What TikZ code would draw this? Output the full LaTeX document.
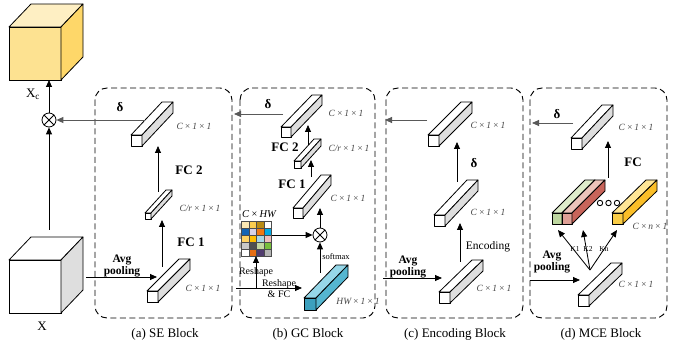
\documentclass[tikz,border=0pt]{standalone}
\usepackage{fontspec}
\setmainfont{Liberation Serif}
\usetikzlibrary{arrows.meta}
\definecolor{cubefront}{RGB}{253,226,145}
\definecolor{cubetop}{RGB}{254,239,195}
\definecolor{cubeside}{RGB}{254,215,105}
\definecolor{barside}{RGB}{222,222,222}
\definecolor{lblgray}{RGB}{70,70,70}
\definecolor{bluefront}{RGB}{60,160,190}
\definecolor{bluetop}{RGB}{150,215,232}
\definecolor{blueside}{RGB}{85,182,208}
\definecolor{grfront}{RGB}{190,215,160}
\definecolor{grtop}{RGB}{222,236,202}
\definecolor{pkfront}{RGB}{222,160,150}
\definecolor{pktop}{RGB}{236,196,186}
\definecolor{pkside}{RGB}{200,100,90}
\definecolor{yefront}{RGB}{250,205,70}
\definecolor{yetop}{RGB}{255,230,150}
\definecolor{yeside}{RGB}{250,190,40}
\definecolor{m11}{RGB}{253,233,180}\definecolor{m12}{RGB}{250,205,80}\definecolor{m13}{RGB}{185,140,20}\definecolor{m14}{RGB}{255,255,255}
\definecolor{m21}{RGB}{20,100,180}\definecolor{m22}{RGB}{215,210,230}\definecolor{m23}{RGB}{240,120,20}\definecolor{m24}{RGB}{0,170,230}
\definecolor{m31}{RGB}{255,210,100}\definecolor{m32}{RGB}{255,190,0}\definecolor{m33}{RGB}{170,215,230}\definecolor{m34}{RGB}{240,190,190}
\definecolor{m41}{RGB}{200,200,200}\definecolor{m42}{RGB}{80,80,80}\definecolor{m43}{RGB}{195,215,160}\definecolor{m44}{RGB}{120,190,60}
\definecolor{m51}{RGB}{255,255,255}\definecolor{m52}{RGB}{230,110,20}\definecolor{m53}{RGB}{80,60,110}\definecolor{m54}{RGB}{180,180,180}
% x y w h dx dy front top side
\newcommand\drawbar[9]{%
  \filldraw[fill=#7,draw=black,line width=0.8pt,line join=round] (#1,#2) rectangle ++(#3,#4);
  \filldraw[fill=#8,draw=black,line width=0.8pt,line join=round] (#1,#2) -- ++(#5,#6) -- ++(#3,0) -- ++({-(#5)},{-(#6)}) -- cycle;
  \filldraw[fill=#9,draw=black,line width=0.8pt,line join=round] ({#1+#3},#2) -- ++(#5,#6) -- ++(0,#4) -- ++({-(#5)},{-(#6)}) -- cycle;
}
\newcommand\tms{\kern1.5pt×\kern1.5pt}
\begin{document}
\begin{tikzpicture}[x=1pt,y=-1pt,
  blockbox/.style={draw,dash pattern=on 6pt off 3.5pt,line width=0.95pt,rounded corners=12pt},
  dimlbl/.style={font=\fontsize{9.5}{9}\selectfont\itshape,text=lblgray,inner sep=0},
  boldlbl/.style={font=\fontsize{13}{13}\selectfont\bfseries,inner sep=0},
  poollbl/.style={font=\fontsize{11.5}{12.5}\selectfont\bfseries,align=center,inner sep=0},
  smalllbl/.style={font=\fontsize{10}{11}\selectfont,align=center,inner sep=0},
  caplbl/.style={font=\fontsize{13}{13}\selectfont,inner sep=0},
  arr/.style={-{Triangle[length=7pt,width=6pt]},line width=0.85pt},
  garr/.style={arr,draw=black!65},
  otimesnode/.style={circle,draw,line width=0.8pt,minimum size=14pt,inner sep=0}]
\useasboundingbox (0,0) rectangle (673,350);

% ---------- left cubes ----------
\filldraw[fill=cubefront,line width=0.8pt] (9,27) rectangle (61,80);
\filldraw[fill=cubetop,line width=0.8pt,line join=round] (9,27) -- (31,4) -- (83,4) -- (61,27) -- cycle;
\filldraw[fill=cubeside,line width=0.8pt,line join=round] (61,27) -- (83,4) -- (83,57) -- (61,80) -- cycle;
\coordinate (xcbot) at (49,80);
\node[caplbl] (xclbl) at (33,94) {X\textsubscript{c}};

\filldraw[fill=white,line width=0.8pt] (9,260) rectangle (61,313);
\filldraw[fill=white,line width=0.8pt,line join=round] (9,260) -- (31,237) -- (83,237) -- (61,260) -- cycle;
\filldraw[fill=barside,line width=0.8pt,line join=round] (61,260) -- (83,237) -- (83,290) -- (61,313) -- cycle;
\node[caplbl] (xlbl) at (42,326) {X};
\coordinate (xtop) at (49,230);
\coordinate (xright) at (86,277);

\node[otimesnode] (om) at (49,120) {};
\draw[line width=0.8pt] (om.north west) -- (om.south east) (om.north east) -- (om.south west);
\draw[arr] (om) -- (xcbot);
\draw[arr] (xtop) -- (om);

% ---------- boxes ----------
\draw[blockbox] (95,88) rectangle (232,318);
\draw[blockbox] (240,88) rectangle (375,318);
\draw[blockbox] (386,88) rectangle (523,318);
\draw[blockbox] (530,88) rectangle (667,318);
\node[caplbl] (capa) at (165,334) {(a) SE Block};
\node[caplbl] (capb) at (308,334) {(b) GC Block};
\node[caplbl] (capc) at (455,334) {(c) Encoding Block};
\node[caplbl] (capd) at (601,334) {(d) MCE Block};

% ---------- SE block ----------
\drawbar{147}{291}{11}{11}{32}{-32}{white}{white}{barside}
\drawbar{145}{213}{6}{6}{21}{-23}{white}{white}{barside}
\drawbar{131}{135}{11}{11}{31}{-33}{white}{white}{barside}
\node[dimlbl] (sel1) at (203,288) {C\tms 1\tms 1};
\node[dimlbl] (sel2) at (200,208) {C/r\tms 1\tms 1};
\node[dimlbl] (sel3) at (194,126) {C\tms 1\tms 1};
\coordinate (seb) at (157,277);
\draw[arr] (xright) -- (seb);
\node[poollbl] (sepool) at (122,266) {Avg\\pooling};
\coordinate (sea1) at (162,267); \coordinate (sea2) at (162,220);
\draw[arr] (sea1) -- (sea2);
\coordinate (sea3) at (158,192); \coordinate (sea4) at (158,146);
\draw[arr] (sea3) -- (sea4);
\node[boldlbl] (sefc1) at (191,242) {FC 1};
\node[boldlbl] (sefc2) at (189,170) {FC 2};
\coordinate (setop) at (145,120);
\draw[garr] (setop) -- (om);
\node[boldlbl] (sedelta) at (120,107) {δ};

% ---------- GC block ----------
\drawbar{304}{298}{12}{12}{32}{-33}{bluefront}{bluetop}{blueside}
\drawbar{293}{208}{10}{10}{28}{-33}{white}{white}{barside}
\drawbar{294}{161}{7}{7}{20}{-22}{white}{white}{barside}
\drawbar{281}{127}{10}{10}{31}{-32}{white}{white}{barside}
\node[dimlbl] (gcl1) at (358,301) {HW\tms 1\tms 1};
\node[dimlbl] (gcl2) at (348,198) {C\tms 1\tms 1};
\node[dimlbl] (gcl3) at (349,148) {C/r\tms 1\tms 1};
\node[dimlbl] (gcl4) at (346,113) {C\tms 1\tms 1};
% grid
\foreach \r in {1,...,5}{\foreach \c in {1,...,4}{
  \filldraw[fill=m\r\c,draw=black!70,line width=0.4pt] ({241.5+7.5*(\c-1)},{221+7*(\r-1)}) rectangle ++(7.5,7);
}}
\coordinate (gridR) at (271.5,235);
\coordinate (gridB) at (256,256);
\node[font=\fontsize{10.5}{10}\selectfont\itshape,inner sep=0] (chw) at (259,214) {C\,×\,HW};
\node[otimesnode] (og) at (320,235) {};
\draw[line width=0.8pt] (og.north west) -- (og.south east) (og.north east) -- (og.south west);
\draw[arr] (gridR) -- (og);
\coordinate (gcmid) at (320,208);
\draw[arr] (og) -- (gcmid);
\coordinate (gcblue) at (320,273);
\draw[arr] (gcblue) -- (og);
\node[font=\fontsize{8.5}{8}\selectfont,inner sep=0] (softmax) at (336,257) {softmax};
\coordinate (gcl) at (236,288);
\coordinate (gcr) at (302,288);
\coordinate (gcj) at (256,288);
\draw[arr] (gcl) -- (gcr);
\draw[arr] (gcj) -- (gridB);
\node[smalllbl] (resh1) at (256,272) {Reshape};
\node[smalllbl] (resh2) at (279,289) {Reshape\\\& FC};
\coordinate (gca1) at (311,177); \coordinate (gca2) at (311,160);
\draw[arr] (gca1) -- (gca2);
\coordinate (gca3) at (308,145); \coordinate (gca4) at (308,125);
\draw[arr] (gca3) -- (gca4);
\node[boldlbl] (gcfc1) at (292,184) {FC 1};
\node[boldlbl] (gcfc2) at (285,147) {FC 2};
\coordinate (gctop) at (283,114); \coordinate (gcend) at (234,114);
\draw[garr] (gctop) -- (gcend);
\node[boldlbl] (gcdelta) at (268,104) {δ};

% ---------- Encoding block ----------
\drawbar{439}{292}{11}{11}{33}{-32}{white}{white}{barside}
\drawbar{434}{215}{11}{11}{33}{-35}{white}{white}{barside}
\drawbar{428}{135}{11}{11}{33}{-33}{white}{white}{barside}
\node[dimlbl] (enl1) at (494,288) {C\tms 1\tms 1};
\node[dimlbl] (enl2) at (488,212) {C\tms 1\tms 1};
\node[dimlbl] (enl3) at (488,125) {C\tms 1\tms 1};
\coordinate (ena) at (383,278); \coordinate (enb) at (442,278);
\draw[arr] (ena) -- (enb);
\node[poollbl] (enpool) at (408,267) {Avg\\pooling};
\coordinate (ena1) at (460,262); \coordinate (ena2) at (460,223);
\draw[arr] (ena1) -- (ena2);
\node[font=\fontsize{11.5}{11}\selectfont,inner sep=0] (encl) at (488,247) {Encoding};
\coordinate (ena3) at (457,182); \coordinate (ena4) at (457,142);
\draw[arr] (ena3) -- (ena4);
\node[boldlbl] (endelta) at (474,163) {δ};
\coordinate (entop) at (427,120); \coordinate (enend) at (385,120);
\draw[garr] (entop) -- (enend);

% ---------- MCE block ----------
\drawbar{578}{295}{11}{11}{33}{-32}{white}{white}{barside}
\drawbar{552}{213}{10}{11}{33}{-33}{grfront}{grtop}{pkside}
\drawbar{562}{213}{10}{11}{33}{-33}{pkfront}{pktop}{pkside}
\drawbar{612}{213}{11}{11}{34}{-33}{yefront}{yetop}{yeside}
\drawbar{571}{138}{11}{11}{31}{-33}{white}{white}{barside}
\foreach \xx in {600,608.5,617}{\draw[line width=0.9pt,fill=white] (\xx,203) circle (2.7);}
\node[dimlbl] (mcl1) at (636,284) {C\tms 1\tms 1};
\node[dimlbl] (mcl2) at (650,226) {C\tms n\tms 1};
\node[dimlbl] (mcl3) at (636,127) {C\tms 1\tms 1};
\coordinate (mca) at (530,280); \coordinate (mcb) at (580,280);
\draw[arr] (mca) -- (mcb);
\node[poollbl] (mcpool) at (552,262) {Avg\\pooling};
\coordinate (kroot) at (590,270);
\coordinate (k1) at (558,230); \coordinate (k2) at (583,230); \coordinate (kn) at (617,230);
\draw[arr] (kroot) -- (k1);
\draw[arr] (kroot) -- (k2);
\draw[arr] (kroot) -- (kn);
\node[font=\fontsize{7.5}{7}\selectfont,inner sep=0] (k1l) at (575,249) {K1};
\node[font=\fontsize{7.5}{7}\selectfont,inner sep=0] (k2l) at (588,249) {K2};
\node[font=\fontsize{7.5}{7}\selectfont,inner sep=0] (knl) at (604,249) {Kn};
\coordinate (mca1) at (608,178); \coordinate (mca2) at (608,141);
\draw[arr] (mca1) -- (mca2);
\node[boldlbl] (mcfc) at (633,162) {FC};
\coordinate (mctop) at (573,123); \coordinate (mcend) at (532,123);
\draw[garr] (mctop) -- (mcend);
\node[boldlbl] (mcdelta) at (557,114) {δ};
\end{tikzpicture}
\end{document}
